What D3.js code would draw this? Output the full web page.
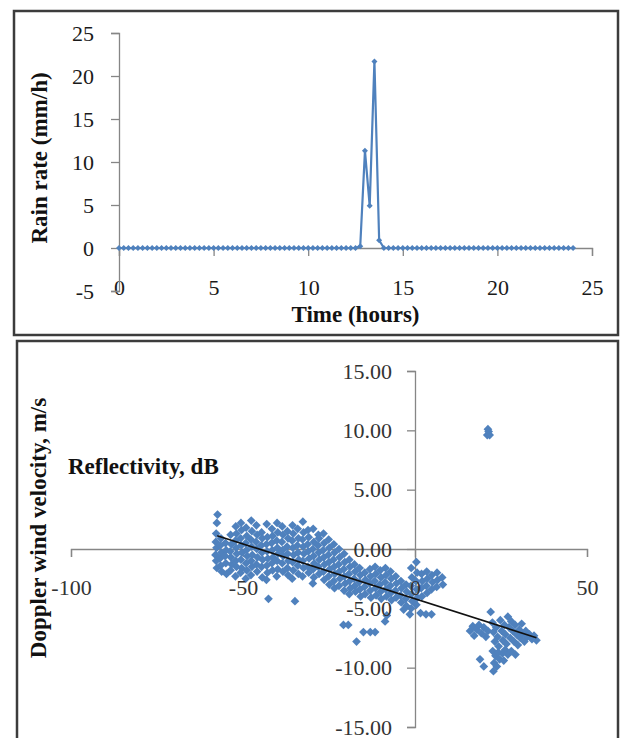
<!DOCTYPE html>
<html>
<head>
<meta charset="utf-8">
<script src="https://cdn.jsdelivr.net/npm/d3@7"></script>
<style>
  body { margin: 0; background: #fff; }
  svg { display: block; font-family: 'Liberation Serif', 'Times New Roman', serif; }
</style>
</head>
<body>
<div id="chart"></div>
<script>
// ---- data ----
// rain gauge, one reading every 15 min from 0 h to 24 h
const rainStep = 0.25
const rainRate = [
  0, 0, 0, 0, 0, 0, 0, 0, 0, 0, 0, 0, 0, 0, 0, 0, 0, 0, 0, 0, // 0 - 4.75 h
  0, 0, 0, 0, 0, 0, 0, 0, 0, 0, 0, 0, 0, 0, 0, 0, 0, 0, 0, 0, // 5 - 9.75 h
  0, 0, 0, 0, 0, 0, 0, 0, 0, 0, 0, 0.2, 11.3, 4.9, 21.7, 0.9, 0, 0, 0, 0, // 10 - 14.75 h
  0, 0, 0, 0, 0, 0, 0, 0, 0, 0, 0, 0, 0, 0, 0, 0, 0, 0, 0, 0, // 15 - 19.75 h
  0, 0, 0, 0, 0, 0, 0, 0, 0, 0, 0, 0, 0, 0, 0, 0, 0 // 20 - 24 h
]
const rainXTicks = [0, 5, 10, 15, 20, 25]
const rainYTicks = [-5, 0, 5, 10, 15, 20, 25]

// radar scatter, [reflectivity dB, doppler velocity m/s]
const mainBand = [
  [-57.8, 1.3], [-57.9, 0.6], [-57.7, 0.1], [-58.0, -0.5], [-57.8, -1.0], [-57.6, -1.6],
  [-56.4, 0.9], [-56.6, 0.3], [-56.3, -0.3], [-56.7, -0.8], [-56.5, -1.4], [-56.2, -1.9],
  [-55.1, 0.5], [-54.9, -0.1], [-55.2, -0.6], [-55.0, -1.2], [-54.8, -2.1],
  [-53.6, 1.2], [-53.4, 0.4], [-53.7, -0.2], [-53.5, -0.7], [-53.3, -1.3], [-53.6, -1.8],
  [-52.1, 1.9], [-51.9, 1.3], [-52.2, 0.7], [-52.0, 0.1], [-51.8, -0.4], [-52.1, -1.0], [-51.9, -1.5], [-52.2, -2.3],
  [-50.6, 2.2], [-50.4, 1.6], [-50.7, 0.9], [-50.5, 0.3], [-50.3, -0.3], [-50.6, -0.9], [-50.4, -1.6], [-50.7, -2.0],
  [-49.1, 1.8], [-48.9, 1.1], [-49.2, 0.5], [-49.0, -0.1], [-48.8, -0.6], [-49.1, -1.2], [-48.9, -1.8], [-49.2, -2.5],
  [-47.6, 2.4], [-47.4, 1.5], [-47.7, 0.8], [-47.5, 0.2], [-47.3, -0.5], [-47.6, -1.0], [-47.4, -1.5], [-47.7, -2.2],
  [-46.1, 2.0], [-45.9, 1.2], [-46.2, 0.6], [-46.0, 0.0], [-45.8, -0.7], [-46.1, -1.3], [-45.9, -1.9],
  [-44.6, 1.4], [-44.4, 0.9], [-44.7, 0.3], [-44.5, -0.3], [-44.3, -0.9], [-44.6, -1.5], [-44.4, -2.4],
  [-43.1, 2.1], [-42.9, 1.0], [-43.2, 0.4], [-43.0, -0.2], [-42.8, -0.8], [-43.1, -1.4], [-42.9, -2.0], [-43.2, -2.6],
  [-41.6, 1.7], [-41.4, 1.1], [-41.7, 0.5], [-41.5, -0.1], [-41.3, -0.7], [-41.6, -1.2], [-41.4, -1.8],
  [-40.1, 2.2], [-39.9, 1.4], [-40.2, 0.7], [-40.0, 0.1], [-39.8, -0.4], [-40.1, -1.0], [-39.9, -1.7], [-40.2, -2.3],
  [-38.6, 1.9], [-38.4, 1.2], [-38.7, 0.6], [-38.5, -0.1], [-38.3, -0.6], [-38.6, -1.2], [-38.4, -1.9],
  [-37.1, 1.5], [-36.9, 0.9], [-37.2, 0.2], [-37.0, -0.4], [-36.8, -1.0], [-37.1, -1.6], [-36.9, -2.2],
  [-35.6, 2.0], [-35.4, 1.3], [-35.7, 0.7], [-35.5, 0.1], [-35.3, -0.5], [-35.6, -1.1], [-35.4, -1.8], [-35.7, -2.5],
  [-34.1, 1.7], [-33.9, 0.9], [-34.2, 0.3], [-34.0, -0.3], [-33.8, -0.9], [-34.1, -1.4], [-33.9, -2.1],
  [-32.6, 2.3], [-32.4, 1.4], [-32.7, 0.8], [-32.5, 0.2], [-32.3, -0.4], [-32.6, -1.0], [-32.4, -1.6], [-32.7, -2.3],
  [-31.1, 1.6], [-30.9, 1.0], [-31.2, 0.4], [-31.0, -0.2], [-30.8, -0.8], [-31.1, -1.5], [-30.9, -2.0],
  [-29.6, 1.7], [-29.4, 0.6], [-29.7, 0.0], [-29.5, -0.6], [-29.3, -1.2], [-29.6, -1.7], [-29.4, -2.4], [-29.7, -2.9],
  [-28.1, 1.2], [-27.9, 0.9], [-28.2, 0.3], [-28.0, -0.3], [-27.8, -0.9], [-28.1, -1.5], [-27.9, -2.1],
  [-26.6, 1.3], [-26.4, 0.5], [-26.7, -0.1], [-26.5, -0.7], [-26.3, -1.3], [-26.6, -1.9], [-26.4, -2.6],
  [-25.1, 0.8], [-24.9, 0.1], [-25.2, -0.5], [-25.0, -1.1], [-24.8, -1.7], [-25.1, -2.3], [-24.9, -3.0],
  [-23.6, 0.4], [-23.4, -0.3], [-23.7, -0.9], [-23.5, -1.5], [-23.3, -2.1], [-23.6, -2.7], [-23.4, -3.3],
  [-22.1, 0.0], [-21.9, -0.7], [-22.2, -1.3], [-22.0, -1.9], [-21.8, -2.5], [-22.1, -3.1],
  [-20.6, -0.4], [-20.4, -1.1], [-20.7, -1.7], [-20.5, -2.3], [-20.3, -2.9], [-20.6, -3.5],
  [-19.1, -0.9], [-18.9, -1.5], [-19.2, -2.1], [-19.0, -2.7], [-18.8, -3.3], [-19.1, -3.8],
  [-17.6, -1.3], [-17.4, -1.9], [-17.7, -2.5], [-17.5, -3.1], [-17.3, -3.6],
  [-16.1, -1.6], [-15.9, -2.2], [-16.2, -2.8], [-16.0, -3.4], [-15.8, -4.0],
  [-14.6, -2.0], [-14.4, -2.6], [-14.7, -3.2], [-14.5, -3.8],
  [-13.1, -1.7], [-12.9, -2.3], [-13.2, -2.9], [-13.0, -3.5], [-12.8, -4.1],
  [-11.6, -1.5], [-11.4, -2.1], [-11.7, -2.7], [-11.5, -3.3], [-11.3, -3.9],
  [-10.1, -1.8], [-9.9, -2.4], [-10.2, -3.0], [-10.0, -3.6], [-9.8, -4.2],
  [-8.6, -1.6], [-8.4, -2.2], [-8.7, -2.8], [-8.5, -3.4], [-8.3, -4.0],
  [-7.1, -1.9], [-6.9, -2.5], [-7.2, -3.1], [-7.0, -3.7], [-6.8, -4.3],
  [-5.6, -2.3], [-5.4, -2.9], [-5.7, -3.5], [-5.5, -4.1],
  [-4.1, -2.7], [-3.9, -3.3], [-4.2, -3.9], [-4.0, -4.5],
  [-2.6, -3.0], [-2.4, -3.6], [-2.7, -4.2], [-2.5, -4.8],
  [-1.1, -1.6], [-0.9, -2.4], [-1.2, -3.1], [-1.0, -3.8], [-0.8, -4.4], [-1.1, -5.0],
  [0.4, -1.1], [0.6, -2.0], [0.3, -2.7], [0.5, -3.4], [0.7, -4.1], [0.4, -4.7],
  [1.9, -2.1], [2.1, -2.7], [1.8, -3.3], [2.0, -4.0],
  [3.4, -1.9], [3.6, -2.5], [3.3, -3.1], [3.5, -3.7],
  [4.9, -2.2], [5.1, -2.8], [4.8, -3.4],
  [6.4, -2.0], [6.6, -2.6], [6.3, -3.2],
  [7.9, -2.4], [8.1, -3.0]
]
const strayPoints = [
  [-57.4, 2.9], [-57.6, 2.2], [-42.6, -4.2], [-34.9, -4.4], [-20.8, -6.4], [-19.4, -6.4],
  [-15.0, -7.0], [-13.0, -7.0], [-11.6, -7.0], [-17.0, -7.8], [-8.2, -5.6], [-8.7, -6.1],
  [-3.3, -5.1], [-1.5, -5.5], [1.6, -5.4], [3.2, -5.5], [4.8, -5.5]
]
const rightCluster = [
  [22.0, -5.3],
  [16.0, -6.9], [16.8, -6.5], [17.2, -7.3], [18.0, -6.8], [18.6, -6.4], [19.3, -7.1], [20.0, -6.6], [20.6, -7.4], [21.2, -6.9],
  [22.5, -6.2], [22.8, -7.0], [23.2, -7.8], [23.6, -6.6], [24.0, -7.4], [24.3, -8.2], [24.8, -6.0], [25.2, -6.9],
  [25.5, -7.7], [26.0, -6.4], [26.3, -7.2], [26.6, -8.0], [27.0, -5.7], [27.3, -6.6], [27.7, -7.5], [28.0, -6.1],
  [28.4, -6.9], [28.8, -7.8], [29.1, -6.4], [29.5, -7.2], [29.9, -8.1], [30.3, -6.8], [30.6, -7.5], [31.0, -6.3],
  [31.4, -7.1], [31.8, -7.8], [32.2, -6.9], [32.6, -7.4],
  [33.3, -7.2], [34.0, -7.6], [34.6, -7.3], [35.3, -7.7],
  [22.6, -8.6], [23.4, -9.0], [24.2, -8.7], [23.0, -9.6], [23.8, -9.9], [22.8, -10.3], [24.6, -9.3],
  [25.4, -8.8], [26.2, -8.5], [27.0, -8.9], [25.8, -9.4], [28.0, -8.6], [29.2, -8.9],
  [18.9, -9.3], [20.0, -9.9]
]
const highPoints = [[21.0, 9.6], [21.4, 9.9], [21.7, 9.6], [21.2, 10.1]]
// linear trend line end points
const trendLine = [[-57.5, 1.12], [35.3, -7.47]]
const dopplerXTicks = [-100, -50, 0, 50]
const dopplerYTicks = [-15, -10, -5, 0, 5, 10, 15]

// ---- setup ----
const width = 622
const height = 738
const blue = '#4f81bd'
const axisGrey = '#868686'

const svg = d3
  .select('#chart')
  .append('svg')
  .attr('width', width)
  .attr('height', height)

// the two framed boxes
svg
  .append('rect')
  .attr('x', 14)
  .attr('y', 11)
  .attr('width', 604)
  .attr('height', 324)
  .attr('fill', 'none')
  .attr('stroke', '#3c3c3c')
  .attr('stroke-width', 2.5)
svg
  .append('rect')
  .attr('x', 17)
  .attr('y', 341)
  .attr('width', 601)
  .attr('height', 420)
  .attr('fill', 'none')
  .attr('stroke', '#3c3c3c')
  .attr('stroke-width', 2.5)

function styleAxis(g, colour) {
  g.select('.domain').attr('stroke', axisGrey).attr('stroke-width', 1.3)
  g.selectAll('.tick line').attr('stroke', axisGrey).attr('stroke-width', 1.3)
  g.selectAll('.tick text')
    .attr('fill', colour)
    .attr('font-size', 22)
    .attr('font-family', "'Liberation Serif', 'Times New Roman', serif")
}

// ---- top: rain rate ----
const xPositionScale = d3.scaleLinear().domain([0, 25]).range([119, 592])
const yPositionScale = d3.scaleLinear().domain([-5, 25]).range([291, 33])

const rainData = rainRate.map((v, i) => ({ time: i * rainStep, rate: v }))

const xAxis = d3
  .axisBottom(xPositionScale)
  .tickValues(rainXTicks)
  .tickSize(8)
  .tickPadding(23)
  .tickFormat(d => String(d))
svg
  .append('g')
  .attr('class', 'axis x-axis')
  .attr('transform', 'translate(0,' + yPositionScale(0) + ')')
  .call(xAxis)
  .call(g => styleAxis(g, '#1a1a1a'))

const yAxis = d3
  .axisLeft(yPositionScale)
  .tickValues(rainYTicks)
  .tickSize(8)
  .tickPadding(17)
  .tickFormat(d => String(d))
svg
  .append('g')
  .attr('class', 'axis y-axis')
  .attr('transform', 'translate(' + xPositionScale(0) + ',0)')
  .call(yAxis)
  .call(g => styleAxis(g, '#1a1a1a'))

const rainLine = d3
  .line()
  .x(d => xPositionScale(d.time))
  .y(d => yPositionScale(d.rate))

svg
  .append('path')
  .datum(rainData)
  .attr('d', rainLine)
  .attr('fill', 'none')
  .attr('stroke', blue)
  .attr('stroke-width', 2.2)

const smallDiamond = d3.symbol().type(d3.symbolSquare).size(18)
svg
  .append('g')
  .selectAll('path')
  .data(rainData)
  .enter()
  .append('path')
  .attr('d', smallDiamond)
  .attr('transform', d => `translate(${xPositionScale(d.time)},${yPositionScale(d.rate)}) rotate(45)`)
  .attr('fill', blue)

svg
  .append('text')
  .text('Time (hours)')
  .attr('x', (xPositionScale(0) + xPositionScale(25)) / 2)
  .attr('y', 322)
  .attr('text-anchor', 'middle')
  .attr('font-size', 23)
  .attr('font-weight', 'bold')
  .attr('fill', '#111')

svg
  .append('text')
  .text('Rain rate (mm/h)')
  .attr('transform', 'translate(47,158) rotate(-90)')
  .attr('text-anchor', 'middle')
  .attr('font-size', 23)
  .attr('font-weight', 'bold')
  .attr('fill', '#111')

// ---- bottom: doppler velocity vs reflectivity ----
const xDopplerScale = d3.scaleLinear().domain([-100, 50]).range([71, 587])
const yDopplerScale = d3.scaleLinear().domain([-15, 15]).range([727, 371])

const xDopplerAxis = d3
  .axisBottom(xDopplerScale)
  .tickValues(dopplerXTicks)
  .tickSize(8)
  .tickPadding(22)
  .tickFormat(d => String(d))
const yDopplerAxis = d3
  .axisLeft(yDopplerScale)
  .tickValues(dopplerYTicks)
  .tickSize(8)
  .tickPadding(15)
  .tickFormat(d => d.toFixed(2))

// axis lines go under the points
svg
  .append('g')
  .attr('transform', 'translate(0,' + yDopplerScale(0) + ')')
  .call(xDopplerAxis.tickFormat(''))
  .call(g => styleAxis(g, '#333'))
svg
  .append('g')
  .attr('transform', 'translate(' + xDopplerScale(0) + ',0)')
  .call(yDopplerAxis.tickFormat(''))
  .call(g => styleAxis(g, '#333'))

const allPoints = mainBand.concat(strayPoints, rightCluster, highPoints)
const diamond = d3.symbol().type(d3.symbolSquare).size(38)
svg
  .append('g')
  .selectAll('path')
  .data(allPoints)
  .enter()
  .append('path')
  .attr('d', diamond)
  .attr('transform', d => `translate(${xDopplerScale(d[0])},${yDopplerScale(d[1])}) rotate(45)`)
  .attr('fill', blue)

// tick labels sit on top of the points
svg
  .append('g')
  .attr('transform', 'translate(0,' + yDopplerScale(0) + ')')
  .call(xDopplerAxis.tickFormat(d => String(d)))
  .call(g => styleAxis(g, '#333'))
  .call(g => g.select('.domain').remove())
  .call(g => g.selectAll('.tick line').remove())
svg
  .append('g')
  .attr('transform', 'translate(' + xDopplerScale(0) + ',0)')
  .call(yDopplerAxis.tickFormat(d => d.toFixed(2)))
  .call(g => styleAxis(g, '#333'))
  .call(g => g.select('.domain').remove())
  .call(g => g.selectAll('.tick line').remove())

svg
  .append('path')
  .datum(trendLine)
  .attr('d', d3.line().x(d => xDopplerScale(d[0])).y(d => yDopplerScale(d[1])))
  .attr('stroke', '#111')
  .attr('stroke-width', 1.6)
  .attr('fill', 'none')

svg
  .append('text')
  .text('Reflectivity, dB')
  .attr('x', 68)
  .attr('y', 474)
  .attr('font-size', 23)
  .attr('font-weight', 'bold')
  .attr('fill', '#111')

svg
  .append('text')
  .text('Doppler wind velocity, m/s')
  .attr('transform', 'translate(46,528) rotate(-90)')
  .attr('text-anchor', 'middle')
  .attr('font-size', 23)
  .attr('font-weight', 'bold')
  .attr('fill', '#111')
</script>
</body>
</html>
